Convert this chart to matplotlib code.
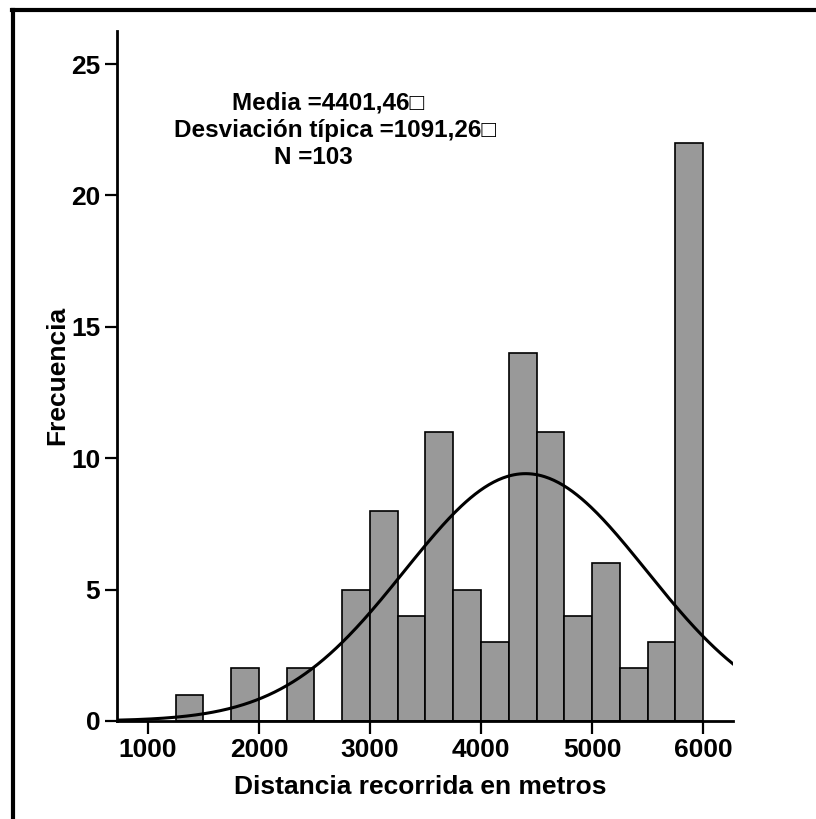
import numpy as np
import matplotlib
matplotlib.use("Agg")
import matplotlib.pyplot as plt
from matplotlib.lines import Line2D

plt.rcParams['font.family'] = ['Liberation Sans', 'DejaVu Sans']
plt.rcParams['font.weight'] = 'bold'

# histogram of the distance walked (bins of 250 m)
bin_edges = [1250, 1500, 1750, 2000, 2250, 2500, 2750, 3000, 3250, 3500,
             3750, 4000, 4250, 4500, 4750, 5000, 5250, 5500, 5750, 6000]
counts = [1, 0, 2, 0, 2, 0, 5, 8, 4, 11, 5, 3, 14, 11, 4, 6, 2, 3, 22]
media = 4401.46
desv = 1091.26
n_total = 103
x_ticks = [1000, 2000, 3000, 4000, 5000, 6000]
y_ticks = [0, 5, 10, 15, 20, 25]

W, H = 816, 819
fig = plt.figure(figsize=(W / 100, H / 100), dpi=100)
ax = fig.add_axes([117 / W, 1 - 721 / H, (733 - 117) / W, (721 - 31) / H])

binw = bin_edges[1] - bin_edges[0]
ax.bar(bin_edges[:-1], counts, width=binw, align='edge', color='#999999',
       edgecolor='black', linewidth=1.2, zorder=2)

# normal curve scaled to the histogram
xmin, xmax = 721, 6270
xs = np.linspace(xmin, xmax, 400)
ys = n_total * binw / (desv * np.sqrt(2 * np.pi)) * np.exp(-0.5 * ((xs - media) / desv) ** 2)
ax.plot(xs, ys, color='black', linewidth=2.2, zorder=3)

ax.set_xlim(xmin, xmax)
ax.set_ylim(0, 26.26)
ax.set_xticks(x_ticks)
ax.set_yticks(y_ticks)
for s in ['top', 'right']:
    ax.spines[s].set_visible(False)
for s in ['left', 'bottom']:
    ax.spines[s].set_linewidth(2)
    ax.spines[s].set_zorder(4)
ax.tick_params(direction='out', length=9, width=1.6, labelsize=19, pad=3)

fig.text(57 / W, 1 - 375 / H, 'Frecuencia', rotation=90, ha='center', va='center',
         fontsize=19, fontweight='bold')
fig.text(420 / W, 1 - 787 / H, 'Distancia recorrida en metros', ha='center', va='center',
         fontsize=19, fontweight='bold')

# statistics box
fig.text(232 / W, 1 - 103 / H, 'Media =4401,46\u25a1', ha='left', va='center', fontsize=17.5)
fig.text(174 / W, 1 - 130 / H, 'Desviación típica =1091,26\u25a1', ha='left', va='center', fontsize=17.5)
fig.text(274 / W, 1 - 157 / H, 'N =103', ha='left', va='center', fontsize=17.5)

# frame lines (top and left)
fig.add_artist(Line2D([12 / W, 1], [1 - 10 / H, 1 - 10 / H], transform=fig.transFigure,
                      color='black', linewidth=3))
fig.add_artist(Line2D([13 / W, 13 / W], [0, 1 - 10 / H], transform=fig.transFigure,
                      color='black', linewidth=3))

fig.savefig('out.png', dpi=100)
